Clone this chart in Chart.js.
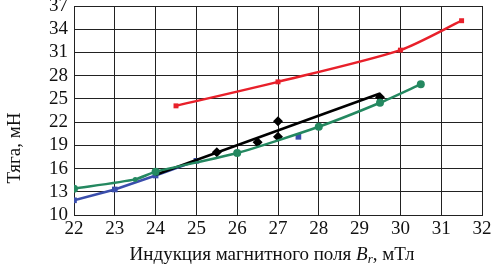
<!DOCTYPE html>
<html>
<head>
<meta charset="utf-8">
<script src="https://cdn.jsdelivr.net/npm/chart.js@4/dist/chart.umd.min.js"></script>
<style>
  html, body { margin: 0; padding: 0; background: #fff; }
  #wrap { width: 493px; height: 269px; position: relative; }
</style>
</head>
<body>
<div id="wrap"><canvas id="c" width="493" height="269"></canvas></div>
<script>
// ---- data ----
const xTicks = [22, 23, 24, 25, 26, 27, 28, 29, 30, 31, 32];
const yTicks = [10, 13, 16, 19, 22, 25, 28, 31, 34, 37];

const redX = [24.5, 27, 30, 31.5];
const redY = [24.1, 27.2, 31.3, 35.1];

const blackX = [25.5, 26.5, 27, 27, 29.5];
const blackY = [18.1, 19.4, 20.1, 22.1, 25.2];
const blackTrendX = [24, 29.5];
const blackTrendY = [15.2, 25.7];

const blueX = [22, 23, 24, 25, 27.5];
const blueY = [11.9, 13.3, 15.1, 17.0, 20.1];

const greenX = [22, 23.5, 24, 26, 28, 29.5, 30.5];
const greenY = [13.4, 14.6, 15.6, 18.0, 21.4, 24.5, 26.9];

const yTitle = 'Тяга, мН';
const xTitleA = 'Индукция магнитного поля ';
const xTitleB = 'B';
const xTitleSub = 'r';
const xTitleC = ', мТл';

const pts = (xs, ys) => xs.map((x, i) => ({ x: x, y: ys[i] }));

const RED = 'rgb(232,32,42)';
const GREEN = 'rgb(36,136,96)';
const BLUE = 'rgb(58,78,172)';
const BLACK = '#000';
const FONT = '"Liberation Serif", "DejaVu Serif", serif';

const titles = {
  id: 'titles',
  afterDraw(chart) {
    const ctx = chart.ctx;
    ctx.save();
    ctx.fillStyle = '#111';
    ctx.textBaseline = 'middle';
    ctx.save();
    ctx.translate(15, 148);
    ctx.rotate(-Math.PI / 2);
    ctx.textAlign = 'center';
    ctx.font = '19px ' + FONT;
    ctx.fillText(yTitle, 0, 0);
    ctx.restore();
    const f = '19px ' + FONT, fi = 'italic 19px ' + FONT, fs = 'italic 13px ' + FONT;
    ctx.font = f; const wA = ctx.measureText(xTitleA).width, wC = ctx.measureText(xTitleC).width;
    ctx.font = fi; const wB = ctx.measureText(xTitleB).width;
    ctx.font = fs; const wS = ctx.measureText(xTitleSub).width;
    const total = wA + wB + wS + wC;
    let x = 272 - total / 2;
    const y = 255;
    ctx.textAlign = 'left';
    ctx.font = f; ctx.fillText(xTitleA, x, y); x += wA;
    ctx.font = fi; ctx.fillText(xTitleB, x, y); x += wB;
    ctx.font = fs; ctx.fillText(xTitleSub, x, y + 5); x += wS;
    ctx.font = f; ctx.fillText(xTitleC, x, y);
    ctx.restore();
  }
};

new Chart(document.getElementById('c'), {
  type: 'scatter',
  data: {
    datasets: [
      { label: 'green', data: pts(greenX, greenY), showLine: true, borderColor: GREEN, backgroundColor: GREEN,
        borderWidth: 2.5, pointStyle: 'circle', pointRadius: [4, 2.5, 4, 4, 4, 4, 4], pointBorderWidth: 0,
        tension: 0.2, order: 1 },
      { label: 'red', data: pts(redX, redY), showLine: true, borderColor: RED, backgroundColor: RED,
        borderWidth: 2.5, pointStyle: 'rect', pointRadius: 3.5, pointBorderWidth: 0,
        tension: 0.25, order: 2 },
      { label: 'black pts', data: pts(blackX, blackY), showLine: false, borderColor: BLACK, backgroundColor: BLACK,
        pointStyle: 'rectRot', pointRadius: 5, pointBorderWidth: 0, order: 3 },
      { label: 'black trend', data: pts(blackTrendX, blackTrendY), showLine: true, borderColor: BLACK,
        borderWidth: 2.5, pointRadius: 0, order: 3 },
      { label: 'blue', data: pts(blueX, blueY), showLine: true, borderColor: BLUE, backgroundColor: BLUE,
        borderWidth: 2.5, pointStyle: 'rect', pointRadius: 4, pointBorderWidth: 0, tension: 0, order: 4,
        segment: { borderColor: (c) => c.p1DataIndex === blueX.length - 1 ? 'rgba(0,0,0,0)' : undefined } }
    ]
  },
  options: {
    responsive: false,
    animation: false,
    layout: { padding: { left: 0, right: 11, top: 6, bottom: 0 } },
    plugins: { legend: { display: false }, tooltip: { enabled: false } },
    scales: {
      x: {
        type: 'linear', min: 22, max: 32,
        afterBuildTicks: (s) => { s.ticks = xTicks.map(v => ({ value: v })); },
        afterFit: (s) => { s.height = 54; s.paddingRight = 0; s.paddingLeft = 0; },
        grid: { color: '#222', lineWidth: 1, drawTicks: false },
        border: { color: '#222', width: 1 },
        ticks: { color: '#111', font: { family: FONT, size: 19 }, padding: 3, maxRotation: 0, autoSkip: false }
      },
      y: {
        type: 'linear', min: 10, max: 37,
        afterBuildTicks: (s) => { s.ticks = yTicks.map(v => ({ value: v })); },
        afterFit: (s) => { s.width = 74; s.paddingTop = 0; s.paddingBottom = 0; },
        grid: { color: '#222', lineWidth: 1, drawTicks: false },
        border: { color: '#222', width: 1 },
        ticks: { color: '#111', font: { family: FONT, size: 19 }, padding: 6, autoSkip: false }
      }
    }
  },
  plugins: [titles]
});
</script>
</body>
</html>
